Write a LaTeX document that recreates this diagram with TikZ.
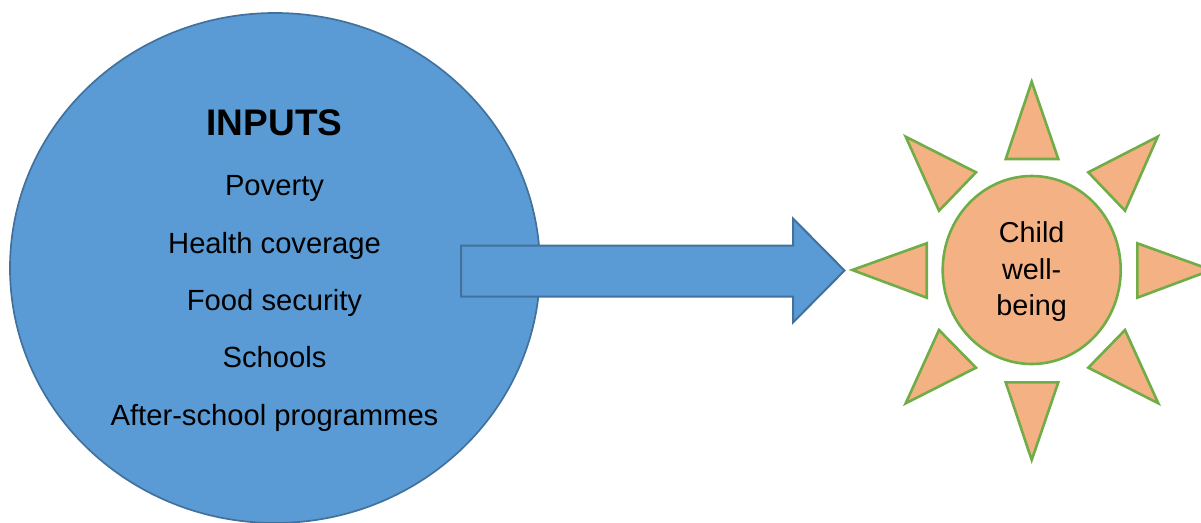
\documentclass[tikz,border=0pt]{standalone}
\usepackage{fontspec}
\setmainfont{Liberation Sans}
\usetikzlibrary{shapes.geometric}
\definecolor{bfill}{HTML}{5B9BD5}
\definecolor{bline}{HTML}{41719C}
\definecolor{ofill}{HTML}{F4B183}
\definecolor{gline}{HTML}{70AD47}
\tikzset{
  inputs/.style={ellipse, fill=bfill, draw=bline, line width=1.7pt, minimum width=530pt, minimum height=510pt, inner sep=0pt},
  bigarrow/.style={fill=bfill, draw=bline, line width=2pt, line join=miter},
  ray/.style={fill=ofill, draw=gline, line width=2.6pt, line join=miter},
  core/.style={ellipse, fill=ofill, draw=gline, line width=2.6pt, minimum width=178pt, minimum height=188pt, inner sep=0pt},
  title/.style={anchor=base, inner sep=0pt, font=\fontsize{37}{44}\selectfont\bfseries},
  item/.style={anchor=base, inner sep=0pt, font=\fontsize{29.2}{34}\selectfont},
}
\begin{document}
\begin{tikzpicture}[x=1pt,y=-1pt]
\useasboundingbox (0,0) rectangle (1201,522);
\node[inputs] (circ) at (275,268) {};
\node[title] (t0) at (274.5,135) {INPUTS};
\node[item] (t1) at (274.5,195) {Poverty};
\node[item] (t2) at (274.5,253.3) {Health coverage};
\node[item] (t3) at (274.5,310.7) {Food security};
\node[item] (t4) at (274.5,367.7) {Schools};
\node[item] (t5) at (274.5,425) {After-school programmes};
% block arrow
\draw[bigarrow] (461,245.5) -- (793,245.5) -- (793,218.5) -- (844.5,270.5) -- (793,322.5) -- (793,296.5) -- (461,296.5) -- cycle;
% sun rays
\draw[ray] (1031.7,81.7) -- (1058.3,159) -- (1005.7,159) -- cycle;
\draw[ray] (1031.7,460) -- (1058.3,382.3) -- (1005.7,382.3) -- cycle;
\draw[ray] (852.3,270) -- (926.7,243.3) -- (926.7,297.7) -- cycle;
\draw[ray] (1211.5,270) -- (1137.3,243.3) -- (1137.3,297.7) -- cycle;
\draw[ray] (905.7,136.7) -- (976,172.3) -- (939,210.7) -- cycle;
\draw[ray] (1157.7,136.7) -- (1088.3,172.3) -- (1125,210.7) -- cycle;
\draw[ray] (939,330) -- (976,367.7) -- (905.7,403.3) -- cycle;
\draw[ray] (1125,330) -- (1088.3,367.7) -- (1158.3,403.3) -- cycle;
\node[core] (sun) at (1031.7,270) {};
\node[item, font=\fontsize{28.8}{34}\selectfont] (s1) at (1031.7,242.3) {Child};
\node[item, font=\fontsize{28.8}{34}\selectfont] (s2) at (1031.7,279) {well-};
\node[item, font=\fontsize{28.8}{34}\selectfont] (s3) at (1031.7,315.7) {being};
\end{tikzpicture}
\end{document}
